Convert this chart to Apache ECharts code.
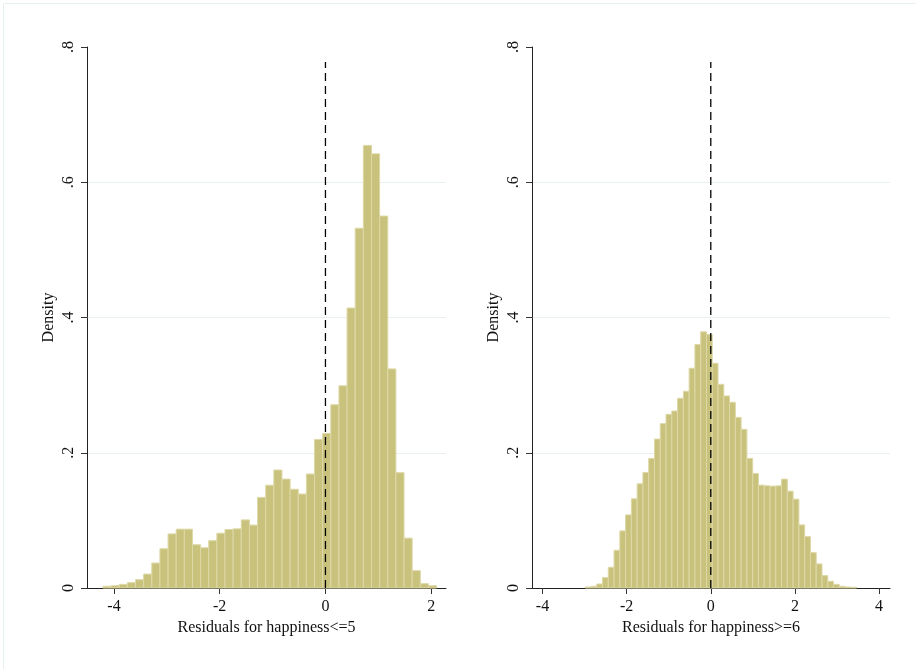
<!DOCTYPE html>
<html>
<head>
<meta charset="utf-8">
<script src="https://cdn.jsdelivr.net/npm/echarts@6/dist/echarts.min.js"></script>
<style>
  html, body { margin: 0; padding: 0; background: #fff; }
  #main { width: 916px; height: 669px; }
</style>
</head>
<body>
<div id="main"></div>
<script>
// ---------------- data ----------------
// left panel: happiness <= 5, 41 bins
var leftBinStart = -4.208;
var leftBinWidth = 0.1539;
var leftDensity = [
  0.0025, 0.0034, 0.0054, 0.0079, 0.0123, 0.0206, 0.0369, 0.058, 0.080, 0.087,
  0.087, 0.064, 0.0595, 0.070, 0.081, 0.0865, 0.0875, 0.1007, 0.093, 0.134,
  0.152, 0.1745, 0.161, 0.146, 0.139, 0.1686, 0.2197, 0.2285, 0.271, 0.299,
  0.414, 0.532, 0.6545, 0.642, 0.550, 0.324, 0.1705, 0.0737, 0.0256, 0.0064,
  0.0034
];
// right panel: happiness >= 6, 47 bins
var rightBinStart = -2.986;
var rightBinWidth = 0.1373;
var rightDensity = [
  0.0015, 0.0025, 0.0059, 0.0153, 0.0306, 0.0558, 0.0844, 0.1081, 0.1319, 0.1541,
  0.1709, 0.1916, 0.2202, 0.2430, 0.2568, 0.2617, 0.2805, 0.2909, 0.3249, 0.3600,
  0.3788, 0.3748, 0.3323, 0.3012, 0.2840, 0.2746, 0.2523, 0.2346, 0.1916, 0.1694,
  0.1521, 0.1511, 0.1506, 0.1511, 0.1610, 0.1432, 0.1314, 0.0933, 0.0760, 0.0523,
  0.0356, 0.0183, 0.0099, 0.0054, 0.0025, 0.0015, 0.0010
];
var leftTicks = [-4, -2, 0, 2];
var rightTicks = [-4, -2, 0, 2, 4];
var leftName = 'Residuals for happiness<=5';
var rightName = 'Residuals for happiness>=6';
var yName = 'Density';

// ---------------- helpers ----------------
var serif = '"Liberation Serif", "Times New Roman", serif';

function toBins(start, width, dens) {
  var out = [];
  for (var i = 0; i < dens.length; i++) {
    out.push([start + i * width, start + (i + 1) * width, dens[i]]);
  }
  return out;
}

function renderBar(params, api) {
  var p0 = api.coord([api.value(0), 0]);
  var p1 = api.coord([api.value(1), api.value(2)]);
  return {
    type: 'rect',
    shape: { x: p0[0], y: p1[1], width: p1[0] - p0[0], height: p0[1] - p1[1] },
    style: { fill: '#c9c27d', stroke: '#ddd8a6', lineWidth: 1 }
  };
}

function yLab(v) {
  if (Math.abs(v) < 1e-9) return '0';
  return v.toFixed(1).replace(/^0/, '');
}

function xAxisOf(idx, min, max, ticks, name) {
  return {
    type: 'value', gridIndex: idx, min: min, max: max,
    name: name, nameLocation: 'middle', nameGap: 30,
    nameTextStyle: { fontFamily: serif, fontSize: 16, color: '#111' },
    axisLine: { onZero: false, lineStyle: { color: '#222', width: 1 } },
    axisTick: { show: true, length: 6, customValues: ticks, lineStyle: { color: '#333' } },
    axisLabel: { customValues: ticks, margin: 11, fontFamily: serif, fontSize: 16, color: '#111' },
    splitLine: { show: false }
  };
}

function yAxisOf(idx) {
  return {
    type: 'value', gridIndex: idx, min: 0, max: 0.8, interval: 0.2,
    name: yName, nameLocation: 'middle', nameGap: 30,
    nameTextStyle: { fontFamily: serif, fontSize: 16, color: '#111' },
    axisLine: { show: true, onZero: false, lineStyle: { color: '#222', width: 1 } },
    axisTick: { show: true, length: 6, lineStyle: { color: '#333' } },
    axisLabel: { rotate: 90, margin: 10, formatter: yLab, fontFamily: serif, fontSize: 16, color: '#111' },
    splitLine: { show: true, showMaxLine: false, lineStyle: { color: '#e9f0f2', width: 1.2 } }
  };
}

function zeroLine(idx) {
  return {
    type: 'line', xAxisIndex: idx, yAxisIndex: idx,
    data: [[0, 0], [0, 0.778]], symbol: 'none', silent: true, z: 5,
    lineStyle: { color: '#000', width: 1.3, type: [8, 5] }
  };
}

// ---------------- chart ----------------
var chart = echarts.init(document.getElementById('main'));
chart.setOption({
  backgroundColor: '#fff',
  animation: false,
  graphic: [{
    type: 'rect', silent: true,
    shape: { x: 3.5, y: 3.5, width: 1000, height: 1000 },
    style: { fill: 'none', stroke: '#e8eff0', lineWidth: 1 }
  }],
  grid: [
    { left: 87, top: 47, width: 359, height: 541 },
    { left: 532, top: 47, width: 358, height: 541 }
  ],
  xAxis: [
    xAxisOf(0, -4.51, 2.28, leftTicks, leftName),
    xAxisOf(1, -4.25, 4.26, rightTicks, rightName)
  ],
  yAxis: [yAxisOf(0), yAxisOf(1)],
  series: [
    {
      type: 'custom', xAxisIndex: 0, yAxisIndex: 0, renderItem: renderBar,
      encode: { x: [0, 1], y: 2 }, data: toBins(leftBinStart, leftBinWidth, leftDensity)
    },
    {
      type: 'custom', xAxisIndex: 1, yAxisIndex: 1, renderItem: renderBar,
      encode: { x: [0, 1], y: 2 }, data: toBins(rightBinStart, rightBinWidth, rightDensity)
    },
    zeroLine(0),
    zeroLine(1)
  ]
});
</script>
</body>
</html>
